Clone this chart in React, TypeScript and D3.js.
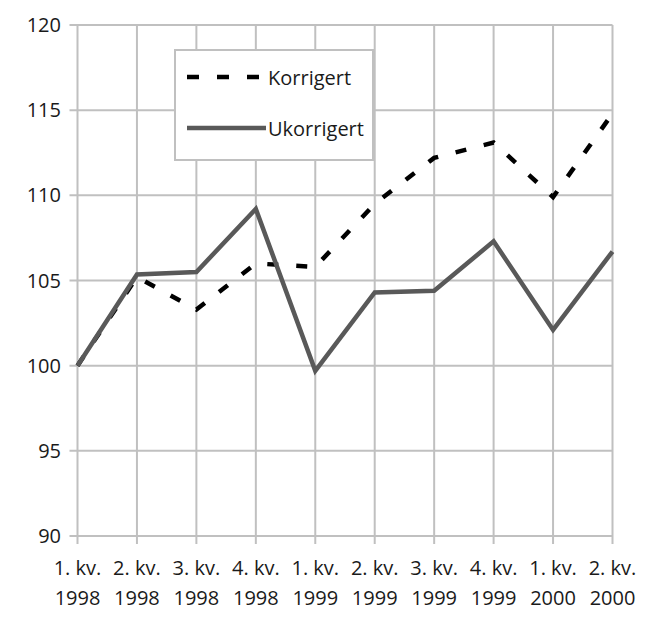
import React from "react";
import * as d3 from "d3";

const categories = [
  ["1. kv.", "1998"], ["2. kv.", "1998"], ["3. kv.", "1998"], ["4. kv.", "1998"],
  ["1. kv.", "1999"], ["2. kv.", "1999"], ["3. kv.", "1999"], ["4. kv.", "1999"],
  ["1. kv.", "2000"], ["2. kv.", "2000"],
];
const korrigert = [100, 105.2, 103.3, 106.0, 105.8, 109.5, 112.2, 113.1, 109.9, 114.8];
const ukorrigert = [100, 105.35, 105.5, 109.2, 99.7, 104.3, 104.4, 107.3, 102.1, 106.7];
const yTicks = [90, 95, 100, 105, 110, 115, 120];

const W = 655, H = 625;
const left = 77.5, right = 612.5, top = 25, bottom = 536;
const FONT = "'Open Sans', sans-serif";
const FS = 20;

export default function App() {
  const x = d3.scalePoint<number>().domain(categories.map((_, i) => i)).range([left, right]);
  const y = d3.scaleLinear().domain([90, 120]).range([bottom, top]);
  const line = d3.line<number>().x((_, i) => x(i)!).y((d) => y(d));
  const grid = "#c0c0c0";
  const txt = "#1a1a1a";
  return (
    <svg width={W} height={H} style={{ position: "absolute", left: 0, top: 0, background: "#fff" }}>
      {yTicks.map((t) => (
        <g key={t}>
          <line x1={left - 8} x2={right} y1={y(t)} y2={y(t)} stroke={grid} strokeWidth={2} />
          <text x={61} y={y(t)} dy="0.35em" textAnchor="end" fontFamily={FONT} fontSize={FS} fill={txt}>{t}</text>
        </g>
      ))}
      {categories.map((c, i) => (
        <g key={i}>
          <line x1={x(i)} x2={x(i)} y1={top} y2={bottom + 8} stroke={grid} strokeWidth={2} />
          <text x={x(i)} y={568} dy="0.35em" textAnchor="middle" fontFamily={FONT} fontSize={FS} fill={txt}>{c[0]}</text>
          <text x={x(i)} y={598} dy="0.35em" textAnchor="middle" fontFamily={FONT} fontSize={FS} fill={txt}>{c[1]}</text>
        </g>
      ))}
      <path d={line(korrigert)!} fill="none" stroke="#000" strokeWidth={4.5} strokeDasharray="11,18" />
      <path d={line(ukorrigert)!} fill="none" stroke="#595959" strokeWidth={4.5} strokeLinejoin="miter" />
      <rect x={175} y={50} width={198} height={110} fill="#fff" stroke={grid} strokeWidth={2} />
      <line x1={187} x2={265} y1={77} y2={77} stroke="#000" strokeWidth={4.5} strokeDasharray="12,18" />
      <text x={268} y={78} dy="0.35em" fontFamily={FONT} fontSize={FS} fill={txt}>Korrigert</text>
      <line x1={187} x2={266} y1={128} y2={128} stroke="#595959" strokeWidth={4.5} />
      <text x={268} y={129} dy="0.35em" fontFamily={FONT} fontSize={FS} fill={txt}>Ukorrigert</text>
    </svg>
  );
}
